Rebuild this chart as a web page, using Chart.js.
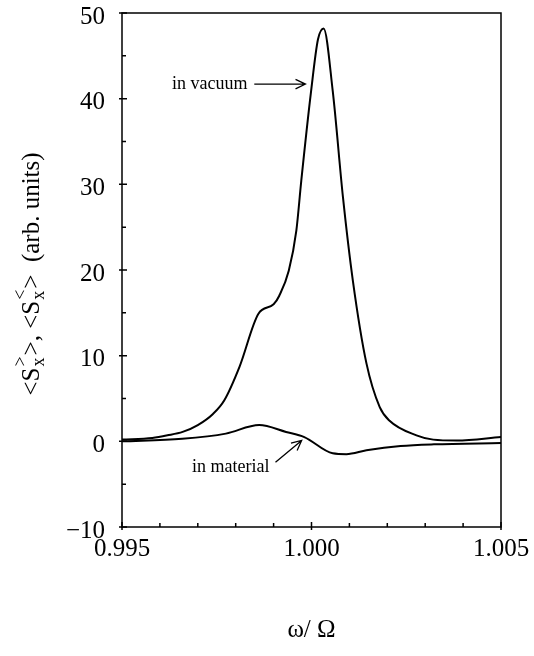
<!DOCTYPE html>
<html>
<head>
<meta charset="utf-8">
<script src="https://cdn.jsdelivr.net/npm/chart.js@4.4.1/dist/chart.umd.min.js"></script>
<style>
  html, body { margin: 0; padding: 0; background: #fff; }
  canvas { display: block; }
</style>
</head>
<body>
<canvas id="chart" width="534" height="656"></canvas>
<script>
// values
const vacuumX = [0.9950, 0.9958, 0.9962, 0.9966, 0.9970, 0.9974, 0.9977, 0.9981, 0.9986, 0.9990,
                 0.99915, 0.9994, 0.9996, 0.99973, 0.99999, 1.00017, 1.00032, 1.00056, 1.00083,
                 1.00109, 1.00145, 1.00180, 1.00206, 1.00277, 1.00321, 1.00383, 1.00500]
const vacuumY = [0.2, 0.4, 0.7, 1.1, 1.9, 3.2, 4.8, 8.7, 14.9, 16.0,
                 17.0, 19.9, 24.6, 30.4, 40.9, 46.9, 48.2, 40.9, 28.5,
                 18.8, 9.1, 4.0, 2.4, 0.7, 0.2, 0.1, 0.5]

const materialX = [0.9950, 0.99659, 0.99774, 0.99862, 0.99933, 0.99981, 1.00056, 1.00092,
                   1.00145, 1.00235, 1.00323, 1.00500]
const materialY = [0.0, 0.3, 0.9, 1.9, 1.1, 0.5, -1.4, -1.5,
                   -1.05, -0.55, -0.35, -0.2]

const xTicks = [0.995, 1.000, 1.005]
const xMinor = [0.996, 0.997, 0.998, 0.999, 1.001, 1.002, 1.003, 1.004]
const yTicks = [-10, 0, 10, 20, 30, 40, 50]
const yMinor = [-5, 5, 15, 25, 35, 45]

const labels = ['in vacuum', 'in material']

const FONT = "'Liberation Serif', 'Times New Roman', serif"

const toPoints = (xs, ys) => xs.map((x, i) => ({ x: x, y: ys[i] }))

const drawArrow = (ctx, x1, y1, x2, y2) => {
  const a = Math.atan2(y2 - y1, x2 - x1)
  const h = 11
  ctx.beginPath()
  ctx.moveTo(x1, y1)
  ctx.lineTo(x2, y2)
  ctx.moveTo(x2 - h * Math.cos(a - 0.45), y2 - h * Math.sin(a - 0.45))
  ctx.lineTo(x2, y2)
  ctx.lineTo(x2 - h * Math.cos(a + 0.45), y2 - h * Math.sin(a + 0.45))
  ctx.stroke()
}

const extras = {
  id: 'extras',
  beforeDraw(chart) {
    const ctx = chart.ctx
    ctx.save()
    ctx.fillStyle = '#fff'
    ctx.fillRect(0, 0, chart.width, chart.height)
    ctx.restore()
  },
  afterDraw(chart) {
    const ctx = chart.ctx
    const a = chart.chartArea
    const xs = chart.scales.x, ys = chart.scales.y
    ctx.save()
    ctx.strokeStyle = '#000'
    ctx.fillStyle = '#000'
    ctx.lineWidth = 1.5
    ctx.strokeRect(a.left, a.top, a.right - a.left, a.bottom - a.top)

    // ticks: major ones cross the axis, minor ones point inward
    ctx.beginPath()
    xTicks.forEach(v => {
      const px = xs.getPixelForValue(v)
      ctx.moveTo(px, a.bottom + 3)
      ctx.lineTo(px, a.bottom - 5)
    })
    xMinor.forEach(v => {
      const px = xs.getPixelForValue(v)
      ctx.moveTo(px, a.bottom)
      ctx.lineTo(px, a.bottom - 4)
    })
    yTicks.forEach(v => {
      const py = ys.getPixelForValue(v)
      ctx.moveTo(a.left - 3, py)
      ctx.lineTo(a.left + 5, py)
    })
    yMinor.forEach(v => {
      const py = ys.getPixelForValue(v)
      ctx.moveTo(a.left, py)
      ctx.lineTo(a.left + 4, py)
    })
    ctx.stroke()

    // x title
    ctx.font = '25px ' + FONT
    ctx.textAlign = 'center'
    ctx.textBaseline = 'middle'
    ctx.fillText('ω/ Ω', (a.left + a.right) / 2, 630)

    // y title with sub/superscripts
    const big = '25px ' + FONT, small = '18px ' + FONT
    const parts = [
      ['<S', 'n'], ['>', 'sup', 'x'], ['>, <S', 'n'], ['<', 'sup', 'x'], ['>  (arb. units)', 'n']
    ]
    let total = 0
    parts.forEach(p => {
      ctx.font = p[1] === 'n' ? big : small
      total += ctx.measureText(p[0]).width + (p[1] === 'n' ? 0 : 2)
    })
    ctx.translate(30, 274)
    ctx.rotate(-Math.PI / 2)
    ctx.textAlign = 'left'
    ctx.textBaseline = 'alphabetic'
    let cx = -total / 2
    parts.forEach(p => {
      if (p[1] === 'n') {
        ctx.font = big
        ctx.fillText(p[0], cx, 9)
        cx += ctx.measureText(p[0]).width
      } else {
        ctx.font = small
        ctx.fillText(p[0], cx + 1, -4)
        ctx.fillText(p[2], cx + 1, 14)
        cx += ctx.measureText(p[0]).width + 2
      }
    })
    ctx.setTransform(1, 0, 0, 1, 0, 0)

    // annotations
    ctx.font = '18px ' + FONT
    ctx.textAlign = 'left'
    ctx.textBaseline = 'middle'
    ctx.lineWidth = 1.3
    ctx.fillText(labels[0], xs.getPixelForValue(0.99632), ys.getPixelForValue(41.7))
    drawArrow(ctx, xs.getPixelForValue(0.99849), ys.getPixelForValue(41.7),
              xs.getPixelForValue(0.99984), ys.getPixelForValue(41.7))
    ctx.fillText(labels[1], xs.getPixelForValue(0.99685), ys.getPixelForValue(-3.0))
    drawArrow(ctx, xs.getPixelForValue(0.99905), ys.getPixelForValue(-2.45),
              xs.getPixelForValue(0.99974), ys.getPixelForValue(0.1))
    ctx.restore()
  }
}

const lineStyle = {
  borderColor: '#000',
  borderWidth: 2,
  pointRadius: 0,
  fill: false,
  cubicInterpolationMode: 'monotone'
}

new Chart(document.getElementById('chart').getContext('2d'), {
  type: 'line',
  data: {
    datasets: [
      Object.assign({ label: labels[0], data: toPoints(vacuumX, vacuumY) }, lineStyle),
      Object.assign({ label: labels[1], data: toPoints(materialX, materialY) }, lineStyle)
    ]
  },
  options: {
    responsive: false,
    animation: false,
    layout: { padding: 0 },
    plugins: { legend: { display: false }, tooltip: { enabled: false } },
    scales: {
      x: {
        type: 'linear',
        min: 0.995,
        max: 1.005,
        afterBuildTicks: s => { s.ticks = xTicks.map(v => ({ value: v })) },
        afterFit: s => { s.height = 129; s.paddingLeft = 0; s.paddingRight = 33 },
        grid: { display: false },
        border: { display: false },
        ticks: {
          color: '#000',
          padding: 2,
          maxRotation: 0,
          font: { family: FONT, size: 25, lineHeight: 1 },
          callback: v => Number(v).toFixed(3)
        }
      },
      y: {
        min: -10,
        max: 50,
        afterBuildTicks: s => { s.ticks = yTicks.map(v => ({ value: v })) },
        afterFit: s => { s.width = 122; s.paddingTop = 13; s.paddingBottom = 0 },
        grid: { display: false },
        border: { display: false },
        ticks: {
          color: '#000',
          padding: 9,
          labelOffset: 4,
          font: { family: FONT, size: 25, lineHeight: 1 },
          callback: v => (v < 0 ? '\u2212' : '') + Math.abs(v)
        }
      }
    }
  },
  plugins: [extras]
})
</script>
</body>
</html>
